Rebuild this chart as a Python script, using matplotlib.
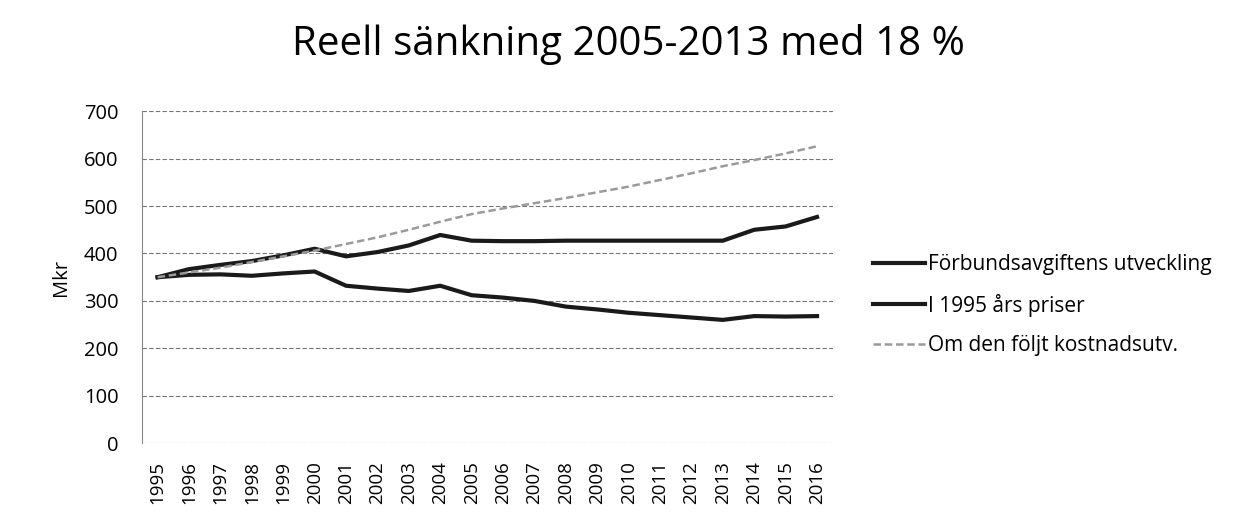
import numpy as np
import matplotlib.pyplot as plt

plt.rcParams['font.family'] = ['Open Sans', 'DejaVu Sans']

years = [str(y) for y in range(1995, 2017)]
avgift = [350, 367, 376, 384, 396, 410, 394, 403, 417, 439, 427,
          426, 426, 427, 427, 427, 427, 427, 427, 450, 457, 477]
priser_1995 = [350, 355, 356, 353, 358, 362, 332, 326, 321, 332, 312,
               307, 300, 288, 282, 275, 270, 265, 260, 268, 267, 268]
kostnad = [350, 360, 370, 382, 394, 406, 420, 434, 450, 467, 483,
           495, 506, 517, 529, 541, 555, 569, 584, 597, 611, 626]

fig = plt.figure(figsize=(12.56, 5.27), dpi=100)
ax = fig.add_axes([0.113, 0.159, 0.55, 0.63])

x = np.arange(len(years))
ax.plot(x, avgift, color='#1a1a1a', lw=3, label='Förbundsavgiftens utveckling')
ax.plot(x, priser_1995, color='#1a1a1a', lw=3, label='I 1995 års priser')
ax.plot(x, kostnad, color='#9a9a9a', lw=1.8, ls=(0, (3, 1.5)), label='Om den följt kostnadsutv.')

ax.set_xlim(-0.5, len(years) - 0.5)
ax.set_ylim(0, 700)
ax.set_yticks(range(0, 701, 100))
ax.set_xticks(x)
ax.set_xticklabels(years, rotation=90, fontsize=13.5)
ax.tick_params(axis='y', length=0, pad=17, labelsize=14.5)
ax.tick_params(axis='x', length=0, pad=13)
ax.grid(axis='y', color='#777777', ls=(0, (4, 2)), lw=0.8)
ax.set_axisbelow(True)
for side in ['top', 'right', 'bottom']:
    ax.spines[side].set_visible(False)
ax.spines['left'].set_color('#888888')
ax.spines['left'].set_linestyle((0, (2, 1)))
ax.set_ylabel('Mkr', fontsize=14.5, labelpad=9)

fig.suptitle('Reell sänkning 2005-2013 med 18 %', fontsize=29, x=0.5, y=0.915, va='center')

fig.legend(loc='center left', bbox_to_anchor=(0.68, 0.421), frameon=False,
           fontsize=15, handlelength=2.5, handletextpad=0.15, labelspacing=0.9)

fig.savefig('out.png', dpi=100)
